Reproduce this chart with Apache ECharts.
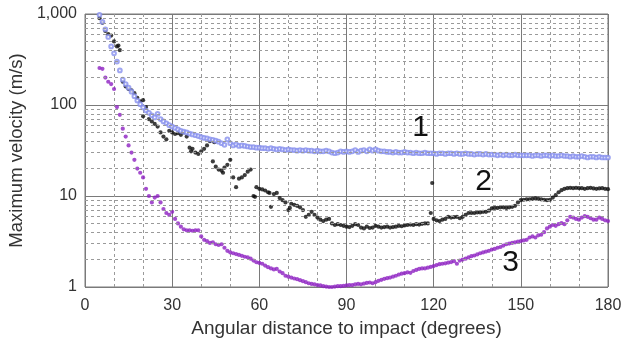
<!DOCTYPE html>
<html><head><meta charset="utf-8">
<script src="https://cdn.jsdelivr.net/npm/echarts@6/dist/echarts.min.js"></script>
<style>html,body{margin:0;padding:0;background:#fff}#c{width:631px;height:338px}</style>
</head><body><div id="c"></div>
<script>
// angles 5..180 degrees, one sample per degree
const angles = [];
for (let a = 5; a <= 180; a++) angles.push(a);

const curve1 = [980,820,680,560,440,370,300,240,190,170,155,140,125,112,102,94,87,82,77,73,
80,70,66,63,60,58,56,54,52,51,50,48.5,47.5,46.5,45.5,44.5,43.5,43,42,41.5,
40.5,39.5,38,36.5,42,38,36,37,35.5,36,35.5,35,34.5,34.5,34,34,33.5,33.5,33,33.5,
33,32.5,33,32.5,32,32.5,32,32,31.5,32,31.5,32,31.5,31.5,31,31.5,31,31,31.5,31,
30,29.5,30,31,30.5,31,30.5,31,32,30.5,31.5,32,31,32.5,31.5,32.5,31.5,31,31,30.5,
30.5,30,30.5,30,30,30.5,30,30,29.5,30,29.5,29.5,30,29.5,29.5,29.5,29,29.5,29.5,29,
29.5,29.5,29,29.5,29,29,29.5,29,29,28.5,29,29,28.5,29,28.5,28.5,28.5,28,28.5,28,
28.5,28,28,28.5,28,28,28,28,28,27.5,28,28,27.5,28,28,27.5,28,27.5,27.5,28,
27.5,27.5,27,27.5,27,27,27.5,27,26.5,27,27,26.5,27,26.5,26.5,26.5];

const curve2 = [900,800,650,600,580,500,440,400,180,160,150,145,135,120,110,75,95,70,66,62,
58,50,45,42,52,50,48,49,47,50,45,34,33,30,29,31,33,36,40,24,
21,19.5,19,20.5,22,25,16,12.5,15.5,16,17,18.5,19.5,10,12.5,12,11.8,11.5,11,7.6,
10.5,10.8,9.5,9,8.5,7,8.2,8,7.8,7.5,7,5.9,6.2,6.7,6.2,5.8,5.5,5.3,5.5,5.6,
5.0,4.8,4.9,4.8,4.7,4.6,4.55,4.7,4.9,4.8,4.5,4.4,4.6,4.45,4.5,4.7,4.6,4.5,4.55,4.6,
4.5,4.55,4.6,4.7,4.65,4.75,4.8,4.85,4.8,4.9,4.85,4.95,5.0,5.0,6.5,5.6,5.4,5.3,5.5,5.6,
5.9,5.8,5.85,5.9,5.7,5.9,6.2,6.5,6.5,6.5,6.6,6.6,6.7,6.7,6.9,7.3,7.4,7.4,7.5,7.5,
7.4,7.5,7.6,7.8,8.5,9.0,9.1,9.2,9.2,9.3,9.4,9.3,9.2,9.1,9.0,9.1,9.6,10.2,11.0,11.6,
12.0,12.2,12.3,12.2,12.3,12.2,12.2,12.0,12.2,12.3,12.1,12.0,12.1,12.2,12.0,11.9];

const extra2X = [119.5, 11.5, 20, 44.5, 58.5, 36.5, 47.5, 63.5, 70.5];
const extra2Y = [13.9, 450, 113, 39, 9.8, 31, 18, 10.8, 7.4];

const curve3 = [255,250,200,180,170,150,95,78,55,45,36,30,25,20,18,16,12,10,8.5,9.6,
10,8.5,7.2,6.5,6.2,6.7,5.6,5.0,4.6,4.3,4.2,4.2,4.15,4.2,4.2,3.6,3.3,3.2,3.05,3.1,
2.95,2.9,2.95,2.7,2.5,2.4,2.35,2.3,2.25,2.2,2.15,2.12,2.05,1.95,1.87,1.84,1.8,1.72,1.65,1.6,
1.56,1.58,1.48,1.42,1.33,1.3,1.27,1.24,1.22,1.19,1.16,1.13,1.1,1.08,1.07,1.05,1.04,1.02,1.01,1.0,
1.0,1.01,1.02,1.02,1.03,1.04,1.05,1.05,1.07,1.08,1.07,1.09,1.11,1.12,1.1,1.13,1.17,1.2,1.23,1.25,
1.27,1.3,1.33,1.37,1.4,1.42,1.45,1.43,1.5,1.54,1.58,1.6,1.6,1.63,1.66,1.7,1.74,1.78,1.8,1.82,
1.85,1.88,1.92,1.8,1.95,2.0,2.05,2.12,2.18,2.22,2.28,2.35,2.4,2.45,2.5,2.58,2.62,2.7,2.75,2.85,
2.95,3.0,3.05,3.1,3.15,3.2,3.25,3.3,3.5,3.6,3.5,3.7,3.75,4.0,4.4,4.6,4.8,4.7,4.9,5.05,
4.9,5.4,5.9,5.8,5.6,5.5,5.8,6.0,5.9,5.7,5.5,5.5,5.8,5.6,5.4,5.3];

const xTicks = [0, 30, 60, 90, 120, 150, 180];
const yMinorLines = [2,3,4,5,6,7,8,9,20,30,40,50,60,70,80,90,200,300,400,500,600,700,800,900];
const seriesLabels = ['1', '2', '3'];
const labelPoints = [[115.5, 56], [137.2, 14.3], [146.5, 1.86]];

function pairs(xs, ys) { return ys.map((v, i) => [xs[i], v]); }

const chart = echarts.init(document.getElementById('c'), null, {renderer: 'canvas'});
const font = 'Liberation Sans, Arial, sans-serif';
function annot(i) {
  return {
    silent: true, symbol: 'circle', symbolSize: 1,
    itemStyle: {color: 'rgba(0,0,0,0)'},
    label: {show: true, position: 'inside', formatter: seriesLabels[i], fontSize: 30, color: '#111', fontFamily: font},
    data: [{coord: labelPoints[i]}]
  };
}
chart.setOption({
  animation: false,
  backgroundColor: '#fff',
  grid: {left: 85, right: 23, top: 14, bottom: 51, show: true, borderColor: '#7a7a7a', borderWidth: 1,
    outerBoundsMode: 'none', containLabel: false},
  xAxis: {
    type: 'value', min: 0, max: 180, interval: 30,
    axisLine: {show: false}, axisTick: {show: false},
    axisLabel: {fontSize: 16, color: '#333', fontFamily: font, margin: 11,
      formatter: v => xTicks.includes(v) ? String(v) : ''},
    splitLine: {show: true, lineStyle: {color: '#7a7a7a', width: 1}},
    minorTick: {show: false, splitNumber: 3},
    minorSplitLine: {show: true, lineStyle: {color: '#9a9a9a', type: [3, 3], width: 1}},
    name: 'Angular distance to impact (degrees)', nameLocation: 'middle', nameGap: 28,
    nameTextStyle: {fontSize: 19, color: '#333', fontFamily: font}
  },
  yAxis: {
    type: 'log', logBase: 10, min: 1, max: 1000,
    axisLine: {show: false}, axisTick: {show: false},
    axisLabel: {fontSize: 16, color: '#333', fontFamily: font, margin: 8,
      formatter: v => Math.round(v).toLocaleString('en-US')},
    splitLine: {show: true, lineStyle: {color: '#7a7a7a', width: 1}},
    name: 'Maximum velocity (m/s)', nameLocation: 'middle', nameGap: 47,
    nameTextStyle: {fontSize: 18.5, color: '#333', fontFamily: font}
  },
  series: [
    {
      type: 'line', data: [], silent: true,
      markLine: {
        silent: true, symbol: 'none', animation: false,
        label: {show: false},
        lineStyle: {color: '#9a9a9a', type: [3, 3], width: 1},
        data: yMinorLines.map(v => ({yAxis: v}))
      }
    },
    {
      name: '3', type: 'scatter', data: pairs(angles, curve3), symbol: 'circle', symbolSize: 4.2,
      itemStyle: {color: '#8d20c2'}, markPoint: annot(2)
    },
    {
      name: '2', type: 'scatter', data: pairs(angles, curve2).concat(pairs(extra2X, extra2Y)),
      symbol: 'circle', symbolSize: 4.2, itemStyle: {color: '#0d0d0d'}, markPoint: annot(1)
    },
    {
      name: '1', type: 'scatter', data: pairs(angles, curve1), symbol: 'emptyCircle', symbolSize: 3.7,
      itemStyle: {color: '#8790ee', borderColor: '#8790ee', borderWidth: 0.8}, markPoint: annot(0)
    }
  ]
});
</script></body></html>
